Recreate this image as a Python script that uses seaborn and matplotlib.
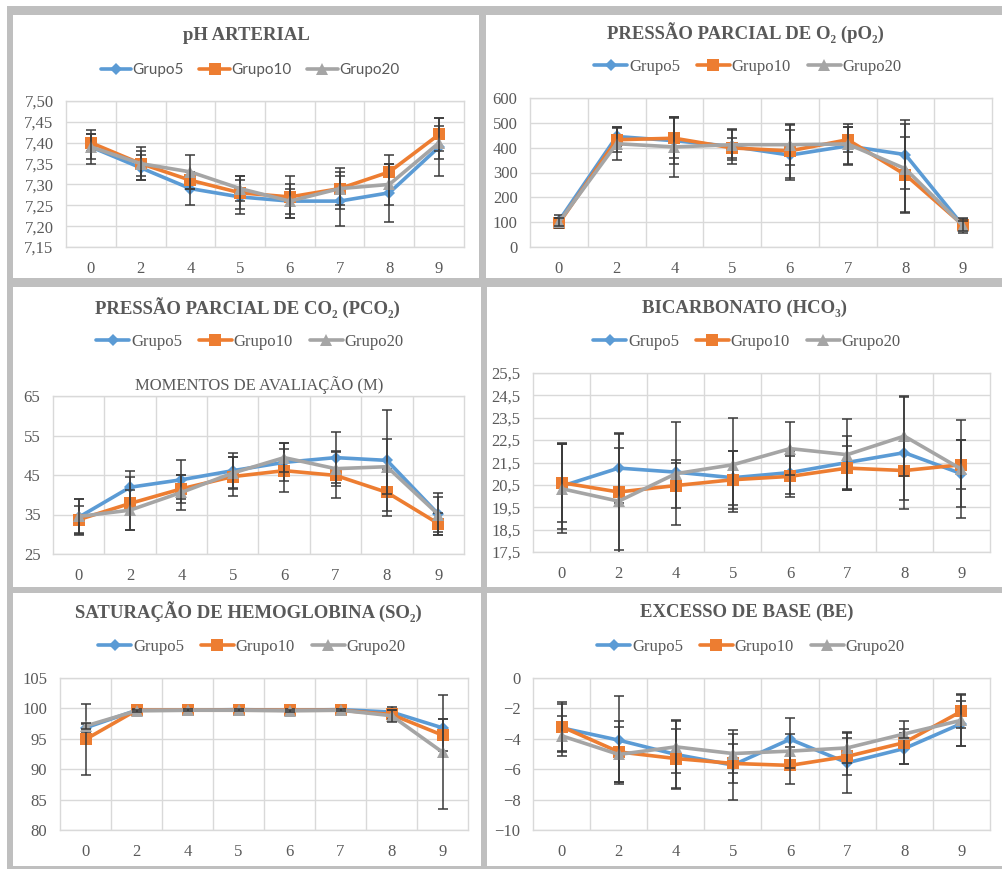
import numpy as np
import pandas as pd
import seaborn as sns
import matplotlib.pyplot as plt
from matplotlib.patches import Rectangle
from matplotlib.lines import Line2D

# momentos de avaliacao (M)
momentos = ["0", "2", "4", "5", "6", "7", "8", "9"]
grupos = ["Grupo5", "Grupo10", "Grupo20"]

# pH arterial
ph_g5 = [7.39, 7.34, 7.29, 7.27, 7.26, 7.26, 7.28, 7.39]
ph_g10 = [7.40, 7.35, 7.31, 7.28, 7.27, 7.29, 7.33, 7.42]
ph_g20 = [7.39, 7.35, 7.33, 7.29, 7.26, 7.29, 7.30, 7.40]
ph_sd5 = [0.04, 0.03, 0.04, 0.04, 0.04, 0.06, 0.07, 0.07]
ph_sd10 = [0.02, 0.04, 0.02, 0.04, 0.05, 0.05, 0.04, 0.04]
ph_sd20 = [0.03, 0.03, 0.04, 0.03, 0.03, 0.04, 0.05, 0.04]

# pO2
po2_g5 = [105, 445, 428, 405, 370, 407, 372, 85]
po2_g10 = [95, 432, 438, 399, 387, 432, 291, 88]
po2_g20 = [100, 416, 403, 412, 412, 415, 315, 85]
po2_sd5 = [25, 40, 95, 70, 100, 75, 140, 30]
po2_sd10 = [20, 50, 80, 40, 110, 50, 150, 25]
po2_sd20 = [15, 65, 120, 60, 80, 80, 180, 20]

# pCO2
pco2_g5 = [34.3, 41.9, 43.8, 46.1, 48.2, 49.4, 48.7, 35.1]
pco2_g10 = [33.7, 37.8, 41.5, 44.6, 46.1, 44.9, 40.6, 32.7]
pco2_g20 = [34.5, 36.1, 40.6, 45.5, 49.4, 46.6, 47.1, 35.0]
pco2_sd5 = [4.6, 4.0, 4.9, 4.4, 4.8, 6.4, 12.8, 5.4]
pco2_sd10 = [3.5, 6.8, 3.6, 5.0, 5.4, 5.8, 6.0, 2.8]
pco2_sd20 = [4.5, 5.0, 4.4, 4.0, 3.6, 4.5, 6.9, 4.5]

# HCO3
hco3_g5 = [20.44, 21.25, 21.07, 20.82, 21.05, 21.50, 21.94, 21.00]
hco3_g10 = [20.60, 20.18, 20.47, 20.73, 20.88, 21.25, 21.14, 21.40]
hco3_g20 = [20.33, 19.77, 21.00, 21.40, 22.12, 21.85, 22.68, 21.20]
hco3_sd5 = [1.90, 1.55, 0.55, 1.20, 0.95, 1.20, 2.50, 1.50]
hco3_sd10 = [1.75, 2.60, 1.00, 1.30, 0.90, 1.00, 1.30, 1.10]
hco3_sd20 = [2.00, 2.40, 2.30, 2.10, 1.20, 1.60, 1.80, 2.20]

# SO2
so2_g5 = [96.8, 99.7, 99.7, 99.8, 99.7, 99.8, 99.4, 96.8]
so2_g10 = [94.9, 99.7, 99.7, 99.7, 99.7, 99.7, 99.0, 95.6]
so2_g20 = [97.1, 99.6, 99.7, 99.7, 99.6, 99.7, 98.8, 92.8]
so2_sd5 = [0.7, 0.2, 0.2, 0.2, 0.2, 0.2, 0.8, 1.5]
so2_sd10 = [5.9, 0.2, 0.2, 0.2, 0.2, 0.2, 0.8, 2.6]
so2_sd20 = [0.5, 0.2, 0.2, 0.2, 0.2, 0.2, 1.0, 9.4]

# BE
be_g5 = [-3.28, -4.09, -5.03, -5.73, -4.03, -5.58, -4.64, -3.00]
be_g10 = [-3.20, -4.86, -5.30, -5.62, -5.75, -5.16, -4.25, -2.19]
be_g20 = [-3.80, -5.03, -4.53, -4.97, -4.81, -4.60, -3.68, -2.78]
be_sd5 = [1.60, 2.90, 2.25, 2.30, 1.40, 2.00, 1.00, 1.50]
be_sd10 = [1.60, 2.00, 1.95, 1.30, 1.20, 1.20, 1.40, 1.10]
be_sd20 = [1.30, 1.80, 1.70, 1.30, 1.10, 1.00, 0.30, 1.70]

ph_ticks = [7.15, 7.20, 7.25, 7.30, 7.35, 7.40, 7.45, 7.50]
ph_labels = ["7,15", "7,20", "7,25", "7,30", "7,35", "7,40", "7,45", "7,50"]
po2_ticks = [0, 100, 200, 300, 400, 500, 600]
pco2_ticks = [25, 35, 45, 55, 65]
hco3_ticks = [17.5, 18.5, 19.5, 20.5, 21.5, 22.5, 23.5, 24.5, 25.5]
hco3_labels = ["17,5", "18,5", "19,5", "20,5", "21,5", "22,5", "23,5", "24,5", "25,5"]
so2_ticks = [80, 85, 90, 95, 100, 105]
be_ticks = [-10, -8, -6, -4, -2, 0]

sns.set_theme(style="white")
plt.rcParams['font.family'] = ['Liberation Serif', 'DejaVu Serif']

W, H = 1003, 869
TXT = '#595959'
cores = ['#5B9BD5', '#ED7D31', '#A5A5A5']
marcadores = [('D', 6.5), ('s', 8.5), ('^', 8)]


def box(x0, y0, x1, y1):
    return [x0 / W, 1 - y1 / H, (x1 - x0) / W, (y1 - y0) / H]


fig = plt.figure(figsize=(W / 100, H / 100), dpi=100)
fig.patch.set_facecolor('white')
fig.add_artist(Rectangle((7 / W, 0), 1 - 7 / W, 1 - 6 / H, transform=fig.transFigure,
                         facecolor='#bfbfbf', edgecolor='none', zorder=-3))

paineis = [
    # panel rect, axes rect, title pos, legend pos, title, values, sds, ticks, labels
    dict(p=(13, 15, 479, 278), a=(66, 101, 464, 247), t=(246, 35), l=(250, 70),
         titulo="pH ARTERIAL", vals=[ph_g5, ph_g10, ph_g20], sds=[ph_sd5, ph_sd10, ph_sd20],
         ticks=ph_ticks, labels=ph_labels, leg_font='Lato'),
    dict(p=(486, 15, 1003, 278), a=(530, 98, 992, 247), t=(745, 33), l=(748, 67),
         titulo="PRESSÃO PARCIAL DE O₂ (pO₂)", vals=[po2_g5, po2_g10, po2_g20],
         sds=[po2_sd5, po2_sd10, po2_sd20], ticks=po2_ticks, labels=None, leg_font=None),
    dict(p=(13, 287, 481, 587), a=(53, 396, 464, 554), t=(247, 308), l=(250, 342),
         titulo="PRESSÃO PARCIAL DE CO₂ (PCO₂)", vals=[pco2_g5, pco2_g10, pco2_g20],
         sds=[pco2_sd5, pco2_sd10, pco2_sd20], ticks=pco2_ticks, labels=None, leg_font=None),
    dict(p=(487, 287, 1003, 587), a=(533, 373, 990, 552), t=(744, 308), l=(747, 342),
         titulo="BICARBONATO (HCO₃)", vals=[hco3_g5, hco3_g10, hco3_g20],
         sds=[hco3_sd5, hco3_sd10, hco3_sd20], ticks=hco3_ticks, labels=hco3_labels, leg_font=None),
    dict(p=(13, 593, 481, 866), a=(60, 678, 468, 830), t=(248, 612), l=(252, 647),
         titulo="SATURAÇÃO DE HEMOGLOBINA (SO₂)", vals=[so2_g5, so2_g10, so2_g20],
         sds=[so2_sd5, so2_sd10, so2_sd20], ticks=so2_ticks, labels=None, leg_font=None),
    dict(p=(487, 593, 1003, 866), a=(533, 678, 990, 830), t=(747, 612), l=(751, 647),
         titulo="EXCESSO DE BASE (BE)", vals=[be_g5, be_g10, be_g20],
         sds=[be_sd5, be_sd10, be_sd20], ticks=be_ticks, labels=None, leg_font=None),
]

pos = np.arange(len(momentos))

for pn in paineis:
    x0, y0, x1, y1 = pn['p']
    fig.add_artist(Rectangle((x0 / W, 1 - y1 / H), (x1 - x0) / W, (y1 - y0) / H,
                             transform=fig.transFigure, facecolor='white',
                             edgecolor='none', zorder=-2))
    ax = fig.add_axes(box(*pn['a']))
    for i, g in enumerate(grupos):
        df = pd.DataFrame({'pos': pos, 'val': pn['vals'][i]})
        m, ms = marcadores[i]
        sns.lineplot(data=df, x='pos', y='val', ax=ax, color=cores[i], lw=2.6,
                     marker=m, markersize=ms, markeredgewidth=0, zorder=3 + i)
        ax.errorbar(pos, pn['vals'][i], yerr=pn['sds'][i], fmt='none', ecolor='#3a3a3a',
                    elinewidth=1.1, capsize=3.5, capthick=1.1, zorder=3.5 + i)
    ax.set_xlim(-0.5, len(momentos) - 0.5)
    ax.set_ylim(pn['ticks'][0], pn['ticks'][-1])
    ax.set_xticks(pos)
    ax.set_xticklabels(momentos)
    ax.set_xticks(pos[:-1] + 0.5, minor=True)
    ax.set_yticks(pn['ticks'])
    if pn['labels'] is not None:
        ax.set_yticklabels(pn['labels'])
    ax.grid(True, axis='y', color='#d9d9d9', lw=1)
    ax.grid(True, axis='x', which='minor', color='#d9d9d9', lw=1)
    ax.grid(False, axis='x', which='major')
    ax.tick_params(axis='both', which='both', length=0, labelsize=12, colors=TXT)
    ax.tick_params(axis='y', pad=9)
    ax.tick_params(axis='x', pad=10)
    for s in ax.spines.values():
        s.set_color('#d9d9d9')
        s.set_linewidth(1)
    ax.set_xlabel('')
    ax.set_ylabel('')

    fig.text(pn['t'][0] / W, 1 - pn['t'][1] / H, pn['titulo'], ha='center', va='center',
             fontsize=13.5, fontweight='bold', color=TXT)

    handles = [Line2D([], [], color=cores[i], lw=2.6, marker=marcadores[i][0],
                      markersize=marcadores[i][1], markeredgewidth=0) for i in range(3)]
    leg_props = {'size': 12}
    if pn['leg_font']:
        leg_props = {'size': 11, 'family': pn['leg_font']}
    leg = ax.legend(handles, grupos, loc='center', ncol=3, frameon=False,
                    bbox_to_anchor=(pn['l'][0] / W, 1 - pn['l'][1] / H),
                    bbox_transform=fig.transFigure, prop=leg_props,
                    handlelength=2.0, handletextpad=0.1, columnspacing=1.0)
    for t in leg.get_texts():
        t.set_color(TXT)

fig.text(259 / W, 1 - 385 / H, "MOMENTOS DE AVALIAÇÃO (M)", ha='center', va='center',
         fontsize=12, color=TXT)

fig.savefig('out.png', dpi=100)
